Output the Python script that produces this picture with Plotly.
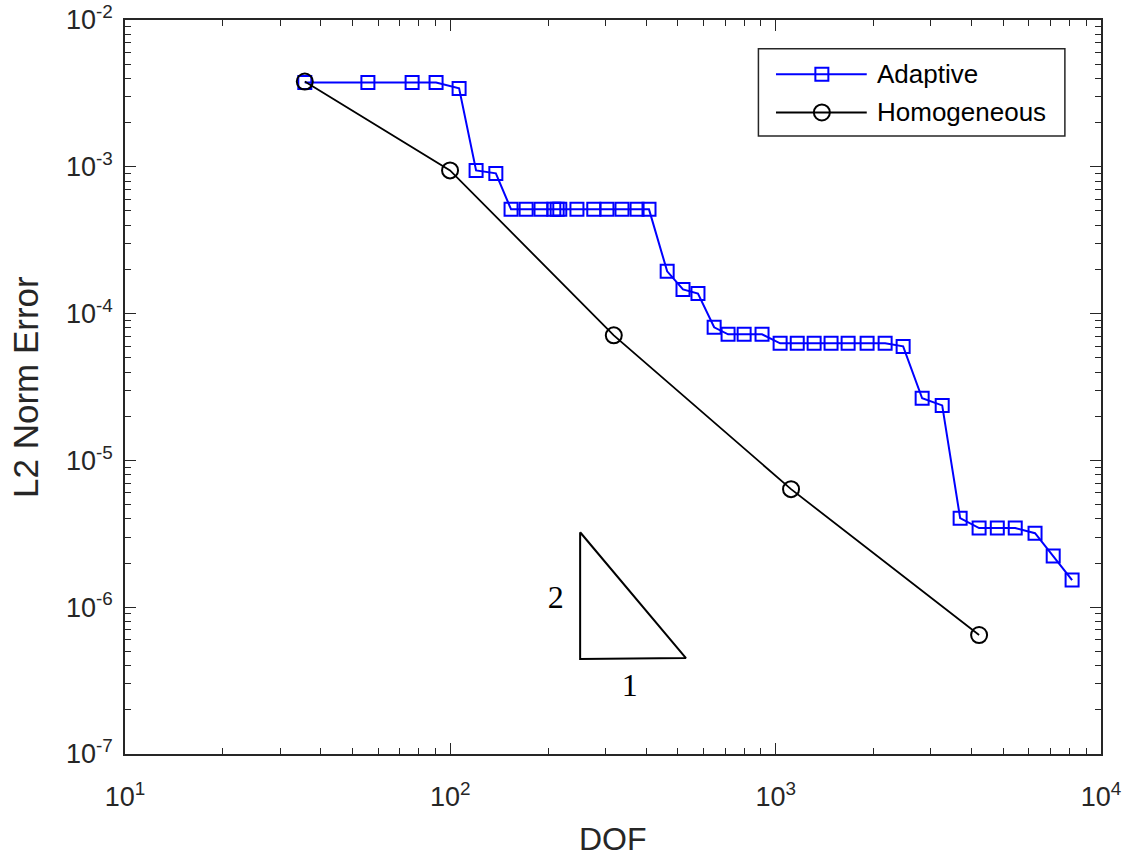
import plotly.graph_objects as go

# ---- data ----
adaptive_dof = [35.7, 55.8, 76.3, 90.4, 106.4, 120, 138, 153.7, 171, 190, 208, 213, 217,
                245, 276, 303, 337, 375, 408, 464, 519, 577, 647, 714, 800, 908, 1032,
                1165, 1313, 1480, 1670, 1910, 2170, 2465, 2820, 3250, 3690, 4220, 4800,
                5450, 6270, 7130, 8150]
adaptive_err = [3.75e-3, 3.75e-3, 3.75e-3, 3.75e-3, 3.42e-3, 9.45e-4, 9.02e-4, 5.13e-4,
                5.13e-4, 5.13e-4, 5.13e-4, 5.13e-4, 5.13e-4, 5.13e-4, 5.13e-4, 5.13e-4,
                5.13e-4, 5.13e-4, 5.13e-4, 1.94e-4, 1.46e-4, 1.37e-4, 8.07e-5, 7.23e-5,
                7.23e-5, 7.23e-5, 6.27e-5, 6.27e-5, 6.27e-5, 6.27e-5, 6.27e-5, 6.27e-5,
                6.27e-5, 5.98e-5, 2.65e-5, 2.37e-5, 4.04e-6, 3.46e-6, 3.46e-6, 3.46e-6,
                3.19e-6, 2.23e-6, 1.53e-6]
homog_dof = [35.7, 99.8, 318, 1115, 4220]
homog_err = [3.81e-3, 9.45e-4, 7.11e-5, 6.37e-6, 6.46e-7]

tri_x = [250.6, 250.6, 530, 250.6]
tri_y = [3.24e-6, 4.44e-7, 4.5e-7, 3.24e-6]
tri_labels = ["2", "1"]
tri_label_x = [211, 356]
tri_label_y = [1.12e-6, 2.81e-7]

xtick_vals = [10, 100, 1000, 10000]
xtick_text = ["10<sup>1</sup>", "10<sup>2</sup>", "10<sup>3</sup>", "10<sup>4</sup>"]
ytick_vals = [1e-7, 1e-6, 1e-5, 1e-4, 1e-3, 1e-2]
ytick_text = ["10<sup>-7</sup>", "10<sup>-6</sup>", "10<sup>-5</sup>", "10<sup>-4</sup>",
              "10<sup>-3</sup>", "10<sup>-2</sup>"]

legend_names = ["Adaptive", "Homogeneous"]
x_title = "DOF"
y_title = "L2 Norm Error"

AX = "#262626"
FONT = "Liberation Sans, Arial, Helvetica, sans-serif"

x_minor = [k * 10 ** e for e in range(1, 4) for k in range(2, 10)]
y_minor = [k * 10.0 ** e for e in range(-7, -2) for k in range(2, 10)]

fig = go.Figure()

fig.add_trace(go.Scatter(
    x=adaptive_dof, y=adaptive_err, mode="lines+markers", name=legend_names[0],
    line=dict(color="#0000FF", width=2),
    marker=dict(symbol="square-open", size=13, color="#0000FF", line=dict(width=2, color="#0000FF")),
    showlegend=False))
fig.add_trace(go.Scatter(
    x=homog_dof, y=homog_err, mode="lines+markers", name=legend_names[1],
    line=dict(color="black", width=1.8),
    marker=dict(symbol="circle-open", size=16, color="black", line=dict(width=2, color="black")),
    showlegend=False))

# slope triangle
fig.add_trace(go.Scatter(x=tri_x, y=tri_y, mode="lines", line=dict(color="black", width=2),
                         showlegend=False, hoverinfo="skip"))
fig.add_trace(go.Scatter(x=tri_label_x, y=tri_label_y, mode="text", text=tri_labels,
                         textfont=dict(family="Liberation Serif, DejaVu Serif, serif", size=32, color="black"),
                         showlegend=False, hoverinfo="skip"))

# manual legend on overlay axes (0..1 over the plot area)
leg_y = [0.926, 0.874]
leg_colors = ["#0000FF", "black"]
leg_symbols = ["square-open", "circle-open"]
leg_sizes = [13, 16]
for i in range(2):
    fig.add_trace(go.Scatter(x=[0.667, 0.760], y=[leg_y[i], leg_y[i]], mode="lines",
                             line=dict(color=leg_colors[i], width=2), xaxis="x2", yaxis="y2",
                             showlegend=False, hoverinfo="skip"))
    fig.add_trace(go.Scatter(x=[0.714], y=[leg_y[i]], mode="markers",
                             marker=dict(symbol=leg_symbols[i], size=leg_sizes[i], color=leg_colors[i],
                                         line=dict(width=2, color=leg_colors[i])),
                             xaxis="x2", yaxis="y2", showlegend=False, hoverinfo="skip"))
    fig.add_annotation(x=0.768, y=leg_y[i], xref="x2", yref="y2", text=legend_names[i],
                       showarrow=False, xanchor="left", yanchor="middle",
                       font=dict(family=FONT, size=26, color="black"))

fig.add_shape(type="rect", xref="x2", yref="y2", x0=0.649, x1=0.963, y0=0.842, y1=0.961,
              line=dict(color=AX, width=1.5), fillcolor="rgba(255,255,255,0)", layer="below")

# axis titles as annotations placed relative to the plot area
fig.add_annotation(x=0.5, y=0, xref="paper", yref="paper", text=x_title, showarrow=False,
                   xanchor="center", yanchor="middle", yshift=-85,
                   font=dict(family=FONT, size=32, color=AX))
fig.add_annotation(x=0, y=0.5, xref="paper", yref="paper", text=y_title, showarrow=False,
                   xanchor="center", yanchor="middle", xshift=-100, textangle=-90,
                   font=dict(family=FONT, size=35, color=AX))

axis_common = dict(
    type="log", showgrid=False, zeroline=False, showline=True, linecolor=AX, linewidth=1.5,
    mirror="ticks", ticks="inside", ticklen=11, tickwidth=1.2, tickcolor=AX,
    tickfont=dict(family=FONT, size=27, color=AX), automargin=False,
)

fig.update_layout(
    width=1125, height=863,
    margin=dict(l=125, r=24, t=20, b=109),
    paper_bgcolor="white", plot_bgcolor="white",
    font=dict(family=FONT, color=AX),
    xaxis=dict(**axis_common, range=[1, 4], tickvals=xtick_vals, ticktext=xtick_text,
               ticklabelstandoff=18,
               minor=dict(ticks="inside", ticklen=6, tickcolor=AX, tickvals=x_minor)),
    yaxis=dict(**axis_common, range=[-7, -2], tickvals=ytick_vals, ticktext=ytick_text,
               ticklabelstandoff=5,
               minor=dict(ticks="inside", ticklen=6, tickcolor=AX, tickvals=y_minor)),
    xaxis2=dict(overlaying="x", range=[0, 1], visible=False, fixedrange=True),
    yaxis2=dict(overlaying="y", range=[0, 1], visible=False, fixedrange=True),
)

fig.write_html("out.html")
